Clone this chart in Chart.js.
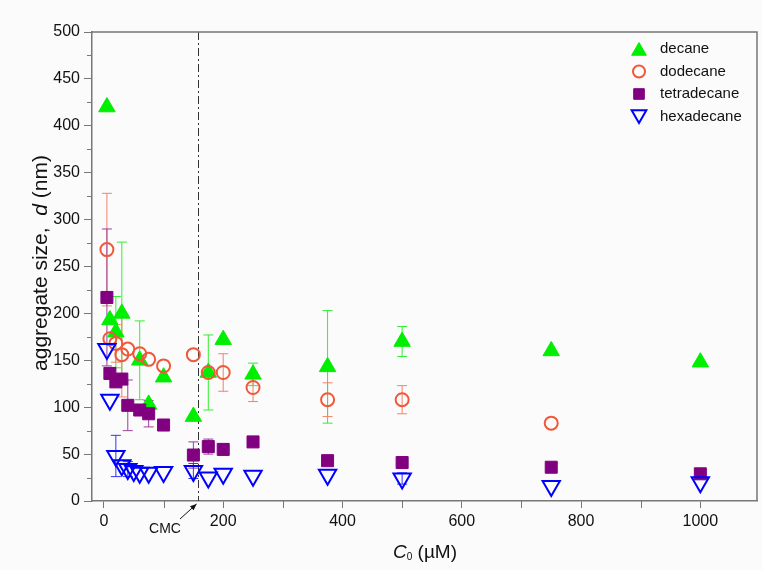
<!DOCTYPE html>
<html>
<head>
<meta charset="utf-8">
<script src="https://cdn.jsdelivr.net/npm/chart.js@4"></script>
<style>
    body { margin: 0; background: #fbfbfb; }
    #wrap { width: 762px; height: 570px; position: relative; }
</style>
</head>
<body>
<div id="wrap"><canvas id="chart"></canvas></div>
<script>
/* ================= DATA ================= */

const xDecane = [5, 10, 20, 30, 60, 75, 100, 150, 175, 200, 250, 375, 500, 750, 1000];
const yDecane = [420, 193, 180, 200, 150, 103, 132, 90, 137, 172, 135, 143, 170, 160, 148];
const eDecane = [0, 0, 38, 76, 42, 0, 0, 0, 40, 0, 12, 60, 16, 0, 0];

const xDodecane = [5, 10, 20, 30, 40, 60, 75, 100, 150, 175, 200, 250, 375, 500, 750];
const yDodecane = [268, 173, 168, 156, 162, 157, 151, 144, 156, 137, 137, 121, 108, 108, 83];
const eDodecane = [60, 0, 20, 45, 0, 0, 0, 0, 0, 0, 20, 15, 18, 15, 0];

const xTetra = [5, 10, 20, 30, 40, 60, 75, 100, 150, 175, 200, 250, 375, 500, 750, 1000];
const yTetra = [217, 136, 127, 130, 102, 97, 93, 81, 49, 58, 55, 63, 43, 41, 36, 29];
const eTetra = [73, 0, 0, 0, 27, 0, 14, 0, 14, 8, 6, 0, 0, 0, 0, 0];

const xHexa = [5, 10, 20, 30, 40, 50, 60, 75, 100, 150, 175, 200, 250, 375, 500, 750, 1000];
const yHexa = [162, 108, 48, 38, 34, 32, 30, 30, 31, 32, 25, 29, 27, 28, 24, 16, 20];
const eHexa = [0, 0, 22, 0, 8, 0, 0, 0, 0, 8, 0, 0, 0, 0, 6, 0, 0];

const seriesNames = ["decane", "dodecane", "tetradecane", "hexadecane"];
const cmcValue = 157;

const FONT = "'Liberation Sans', Arial, sans-serif";

function toPoints(xs, ys) {
    return xs.map((x, i) => ({ x: x, y: ys[i] }));
}

/* ================= PLUGINS ================= */

// error bars, drawn under the markers
const errorBars = {
    id: "errorBars",
    beforeDatasetsDraw(chart) {
        const ctx = chart.ctx;
        const xs = chart.scales.x, ys = chart.scales.y;
        chart.data.datasets.forEach(ds => {
            if (!ds.errors) return;
            ctx.save();
            ctx.strokeStyle = ds.errColor;
            ctx.lineWidth = 1;
            ds.data.forEach((p, i) => {
                const e = ds.errors[i];
                if (!e) return;
                const px = xs.getPixelForValue(p.x);
                const top = ys.getPixelForValue(p.y + e);
                const bot = ys.getPixelForValue(p.y - e);
                ctx.beginPath();
                ctx.moveTo(px, top); ctx.lineTo(px, bot);
                ctx.moveTo(px - 5, top); ctx.lineTo(px + 5, top);
                ctx.moveTo(px - 5, bot); ctx.lineTo(px + 5, bot);
                ctx.stroke();
            });
            ctx.restore();
        });
    }
};

// frame, minor ticks, CMC line, titles, legend
const decorations = {
    id: "decorations",
    beforeDatasetsDraw(chart) {
        const ctx = chart.ctx;
        const xs = chart.scales.x, ys = chart.scales.y;

        ctx.save();
        ctx.strokeStyle = "#333";
        ctx.lineWidth = 1;
        ctx.setLineDash([8, 3, 2, 3]);
        const cx = Math.round(xs.getPixelForValue(cmcValue)) + 0.5;
        ctx.beginPath();
        ctx.moveTo(cx, ys.getPixelForValue(500));
        ctx.lineTo(cx, ys.getPixelForValue(0));
        ctx.stroke();
        ctx.restore();
    },
    afterDraw(chart) {
        const ctx = chart.ctx;
        const a = chart.chartArea;
        const xs = chart.scales.x, ys = chart.scales.y;

        ctx.save();
        // top / right frame
        ctx.strokeStyle = "#777";
        ctx.lineWidth = 1.5;
        ctx.beginPath();
        ctx.moveTo(a.left, a.top); ctx.lineTo(a.right, a.top); ctx.lineTo(a.right, a.bottom);
        ctx.stroke();

        // minor ticks
        ctx.lineWidth = 1;
        ctx.beginPath();
        for (let v = 25; v < 500; v += 50) {
            const py = Math.round(ys.getPixelForValue(v)) + 0.5;
            ctx.moveTo(a.left, py); ctx.lineTo(a.left - 5, py);
        }
        for (let v = 100; v <= 1000; v += 200) {
            const px = Math.round(xs.getPixelForValue(v)) + 0.5;
            ctx.moveTo(px, a.bottom); ctx.lineTo(px, a.bottom + 7);
        }
        ctx.stroke();

        // CMC label + arrow
        ctx.fillStyle = "#111";
        ctx.font = "14px " + FONT;
        ctx.textAlign = "center";
        ctx.textBaseline = "middle";
        ctx.fillText("CMC", 165, 529);
        const tipX = xs.getPixelForValue(cmcValue) - 1, tipY = a.bottom + 3;
        const tailX = 180, tailY = 519;
        ctx.strokeStyle = "#111";
        ctx.beginPath();
        ctx.moveTo(tailX, tailY); ctx.lineTo(tipX, tipY);
        ctx.stroke();
        const ang = Math.atan2(tipY - tailY, tipX - tailX);
        ctx.beginPath();
        ctx.moveTo(tipX, tipY);
        ctx.lineTo(tipX - 7 * Math.cos(ang - 0.4), tipY - 7 * Math.sin(ang - 0.4));
        ctx.lineTo(tipX - 7 * Math.cos(ang + 0.4), tipY - 7 * Math.sin(ang + 0.4));
        ctx.closePath();
        ctx.fill();

        // x title: C0 (µM)
        ctx.textAlign = "left";
        ctx.textBaseline = "alphabetic";
        const italic = "italic 19px " + FONT, normal = "19px " + FONT, small = "10px " + FONT;
        ctx.font = italic; const wC = ctx.measureText("C").width;
        ctx.font = small; const w0 = ctx.measureText("0").width;
        ctx.font = normal; const wR = ctx.measureText(" (\u00b5M)").width;
        let tx = 425 - (wC + w0 + wR) / 2;
        const by = 558;
        ctx.font = italic; ctx.fillText("C", tx, by); tx += wC;
        ctx.font = small; ctx.fillText("0", tx, by + 2); tx += w0;
        ctx.font = normal; ctx.fillText(" (\u00b5M)", tx, by);

        // y title: aggregate size, d (nm)
        ctx.save();
        ctx.translate(47, 263);
        ctx.rotate(-Math.PI / 2);
        const yNormal = "21px " + FONT, yItalic = "italic 21px " + FONT;
        const p1 = "aggregate size,  ", p2 = "d", p3 = " (nm)";
        ctx.font = yNormal; const w1 = ctx.measureText(p1).width, w3 = ctx.measureText(p3).width;
        ctx.font = yItalic; const w2 = ctx.measureText(p2).width;
        let ty = -(w1 + w2 + w3) / 2;
        ctx.font = yNormal; ctx.fillText(p1, ty, 0); ty += w1;
        ctx.font = yItalic; ctx.fillText(p2, ty, 0); ty += w2;
        ctx.font = yNormal; ctx.fillText(p3, ty, 0);
        ctx.restore();

        // legend
        ctx.font = "15px " + FONT;
        ctx.textBaseline = "middle";
        chart.data.datasets.forEach((ds, i) => {
            const ly = 49 + i * 22.5;
            ctx.save();
            ctx.fillStyle = ds.backgroundColor;
            ctx.strokeStyle = ds.borderColor;
            ctx.lineWidth = ds.borderWidth;
            Chart.helpers.drawPoint(ctx, {
                pointStyle: ds.pointStyle,
                radius: ds.legendRadius,
                rotation: ds.rotation || 0,
                borderWidth: ds.borderWidth
            }, 639, ly + (ds.legendShift || 0));
            ctx.restore();
            ctx.fillStyle = "#111";
            ctx.fillText(seriesNames[i], 660, ly);
        });
        ctx.restore();
    }
};

/* ================= CHART ================= */

new Chart(document.getElementById("chart"), {
    type: "scatter",
    data: {
        datasets: [
            {
                label: seriesNames[0],
                data: toPoints(xDecane, yDecane),
                errors: eDecane,
                errColor: "#33ee33",
                pointStyle: "triangle",
                pointRadius: 9.5,
                legendRadius: 8.5,
                legendShift: 2,
                backgroundColor: "#00ee00",
                borderColor: "#00ee00",
                borderWidth: 1,
                order: 4
            },
            {
                label: seriesNames[1],
                data: toPoints(xDodecane, yDodecane),
                errors: eDodecane,
                errColor: "#f4826a",
                pointStyle: "circle",
                pointRadius: 6.5,
                legendRadius: 6,
                backgroundColor: "rgba(0,0,0,0)",
                borderColor: "#f0583a",
                borderWidth: 2,
                order: 3
            },
            {
                label: seriesNames[2],
                data: toPoints(xTetra, yTetra),
                errors: eTetra,
                errColor: "#9a409a",
                pointStyle: "rect",
                pointRadius: 8.5,
                legendRadius: 7.5,
                backgroundColor: "#800080",
                borderColor: "#800080",
                borderWidth: 1,
                order: 2
            },
            {
                label: seriesNames[3],
                data: toPoints(xHexa, yHexa),
                errors: eHexa,
                errColor: "#3333ff",
                pointStyle: "triangle",
                rotation: 180,
                pointRotation: 180,
                pointRadius: 10,
                legendRadius: 8.5,
                legendShift: -2,
                backgroundColor: "rgba(0,0,0,0)",
                borderColor: "#0000ff",
                borderWidth: 2,
                order: 1
            }
        ]
    },
    options: {
        responsive: true,
        maintainAspectRatio: false,
        animation: false,
        layout: {
            autoPadding: false,
            padding: { top: 32, right: 5, left: 0, bottom: 0 }
        },
        plugins: {
            legend: { display: false },
            tooltip: { enabled: false }
        },
        scales: {
            x: {
                type: "linear",
                min: -20,
                max: 1095,
                afterFit: s => {
                    s.height = 69;
                    s.paddingLeft = 0;
                    s.paddingRight = 0;
                },
                grid: { drawOnChartArea: false, tickLength: 7, color: "#777", tickWidth: 1 },
                border: { color: "#777", width: 1.5 },
                ticks: {
                    stepSize: 200,
                    includeBounds: false,
                    padding: 4,
                    color: "#111",
                    font: { family: FONT, size: 16 },
                    callback: v => String(v)
                }
            },
            y: {
                type: "linear",
                min: 0,
                max: 500,
                afterFit: s => {
                    s.width = 92;
                    s.paddingTop = 0;
                    s.paddingBottom = 0;
                },
                grid: { drawOnChartArea: false, tickLength: 8, color: "#777", tickWidth: 1 },
                border: { color: "#777", width: 1.5 },
                ticks: {
                    stepSize: 50,
                    padding: 4,
                    color: "#111",
                    font: { family: FONT, size: 16 },
                    callback: v => String(v)
                }
            }
        }
    },
    plugins: [errorBars, decorations]
});
</script>
</body>
</html>
